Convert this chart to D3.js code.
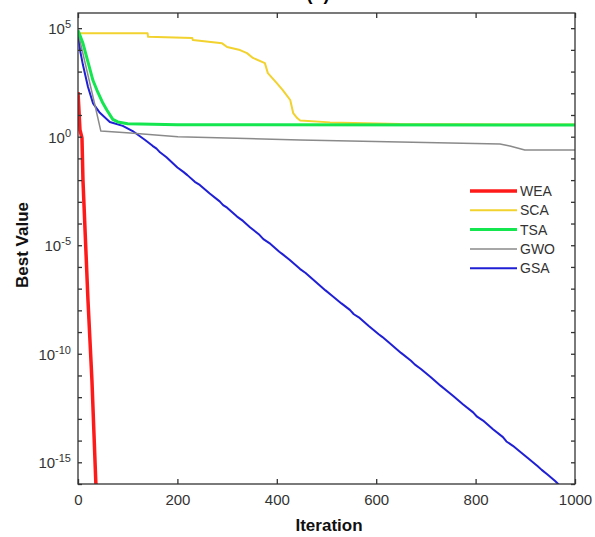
<!DOCTYPE html>
<html>
<head>
<meta charset="utf-8">
<script src="https://cdn.jsdelivr.net/npm/d3@7"></script>
<style>
  body { margin: 0; background: #fff; }
  svg { display: block; font-family: "Liberation Sans", Arial, sans-serif; }
</style>
</head>
<body>
<svg id="chart" width="595" height="537"></svg>
<script>
// series: iteration + log10(best value)
let weaIter = [0, 4, 8, 10, 20, 28, 36, 38];
let weaLog = [2.06, 0.31, -0.06, -2.0, -7.5, -11.2, -16.0, -16.6];

let scaIter = [0, 140, 141, 230, 231, 290, 300, 326, 340, 352, 376, 382, 400, 412, 427, 433, 441, 447, 507, 648, 1000];
let scaLog = [4.77, 4.77, 4.6, 4.55, 4.45, 4.3, 4.13, 3.99, 3.85, 3.63, 3.39, 2.93, 2.47, 2.15, 1.69, 1.09, 0.86, 0.75, 0.66, 0.58, 0.56];

let tsaIter = [0, 10, 30, 38, 50, 58, 70, 80, 100, 200, 1000];
let tsaLog = [4.9, 4.3, 2.6, 2.15, 1.55, 1.23, 0.8, 0.68, 0.6, 0.55, 0.54];

let gwoIter = [0, 34, 46, 105, 201, 447, 648, 849, 869, 899, 1000];
let gwoLog = [4.8, 1.46, 0.26, 0.17, 0.0, -0.15, -0.24, -0.34, -0.43, -0.61, -0.61];

let gsaIter = [0, 4, 10, 20, 30, 44, 64, 90, 110, 135, 150, 158, 165, 178, 185, 200, 212, 220, 235, 245, 258, 265, 285, 292, 300, 320,
  332, 346, 365, 373, 385, 405, 412, 425, 447, 458, 470, 490, 498, 510, 530, 547, 555, 565, 585, 605, 612, 625, 650, 670, 678, 690, 710, 730,
  742, 755, 775, 795, 803, 815, 835, 855, 862, 875, 889, 905, 925, 933, 944, 960, 975];
let gsaLog = [4.8, 4.0, 3.3, 2.3, 1.55, 1.1, 0.68, 0.5, 0.26, -0.15, -0.42, -0.55, -0.72, -0.95, -1.10, -1.42, -1.62, -1.77, -2.08, -2.22, -2.48, -2.62, -2.98, -3.15, -3.27, -3.68,
  -3.88, -4.17, -4.52, -4.72, -4.90, -5.30, -5.42, -5.66, -6.10, -6.28, -6.52, -6.92, -7.08, -7.30, -7.68, -7.98, -8.18, -8.32, -8.72, -9.10, -9.22, -9.47, -9.96, -10.32, -10.50, -10.70, -11.08, -11.48,
  -11.70, -11.95, -12.34, -12.70, -12.90, -13.08, -13.48, -13.84, -14.04, -14.24, -14.50, -14.80, -15.18, -15.35, -15.55, -15.86, -16.2];

let seriesNames = ["WEA", "SCA", "TSA", "GWO", "GSA"];
let xTicks = [0, 200, 400, 600, 800, 1000];
let yLabelExps = [5, 0, -5, -10, -15];

let colors = { WEA: "#ff1a1a", SCA: "#f2d22e", TSA: "#14e650", GWO: "#8a8a8a", GSA: "#1f1fd6" };
let widths = { WEA: 3.5, SCA: 2, TSA: 3, GWO: 1.5, GSA: 2 };

let svg = d3.select("#chart");

let padLeft = 78, padRight = 575, padTop = 13, padBottom = 484;

let xScale = d3.scaleLinear().domain([0, 1000]).range([padLeft, padRight]);
let yScale = d3.scaleLog().domain([1e-16, 5e5]).range([padBottom, padTop]);

svg.append("defs").append("clipPath").attr("id", "plotClip")
  .append("rect")
  .attr("x", padLeft).attr("y", padTop)
  .attr("width", padRight - padLeft).attr("height", padBottom - padTop);

// panel title, cut off at the top edge as in the source figure
svg.append("text")
  .attr("x", 318).attr("y", 0)
  .attr("text-anchor", "middle")
  .style("font-weight", "bold").style("font-size", "18px")
  .text("(b)");

function toPoints(iters, logs) {
  return iters.map((it, i) => ({ it: it, v: Math.pow(10, logs[i]) }));
}

let allSeries = {
  WEA: toPoints(weaIter, weaLog),
  SCA: toPoints(scaIter, scaLog),
  TSA: toPoints(tsaIter, tsaLog),
  GWO: toPoints(gwoIter, gwoLog),
  GSA: toPoints(gsaIter, gsaLog)
};

let line = d3.line()
  .x(d => xScale(d.it))
  .y(d => yScale(d.v));

let plot = svg.append("g").attr("clip-path", "url(#plotClip)");

// draw order so that red ends on top
["GSA", "GWO", "SCA", "TSA", "WEA"].forEach(name => {
  plot.append("path")
    .datum(allSeries[name])
    .attr("fill", "none")
    .attr("stroke", colors[name])
    .attr("stroke-width", widths[name])
    .attr("stroke-linejoin", "round")
    .attr("d", line);
});

// axes: inward ticks on all four sides
let decades = d3.range(-16, 6).map(e => Math.pow(10, e));

svg.append("g")
  .attr("transform", "translate(0," + padBottom + ")")
  .call(d3.axisBottom(xScale).tickValues(xTicks).tickSize(-5).tickPadding(10).tickFormat(d3.format("d")))
  .call(g => g.select(".domain").remove());

svg.append("g")
  .attr("transform", "translate(0," + padTop + ")")
  .call(d3.axisTop(xScale).tickValues(xTicks).tickSize(-5).tickFormat(""))
  .call(g => g.select(".domain").remove());

svg.append("g")
  .attr("transform", "translate(" + padLeft + ",0)")
  .call(d3.axisLeft(yScale).tickValues(decades).tickSize(-4).tickFormat(""))
  .call(g => g.select(".domain").remove());

svg.append("g")
  .attr("transform", "translate(" + padRight + ",0)")
  .call(d3.axisRight(yScale).tickValues(decades).tickSize(-4).tickFormat(""))
  .call(g => g.select(".domain").remove());

svg.selectAll(".tick line").attr("stroke", "#333").attr("stroke-width", 1.3);
svg.selectAll(".tick text")
  .attr("fill", "#333")
  .style("font-size", "15px")
  .style("font-family", "'Liberation Sans', Arial, sans-serif");

// y labels with superscripts
let yLab = svg.append("g");
yLabelExps.forEach(e => {
  let t = yLab.append("text")
    .attr("x", padLeft - 7)
    .attr("y", yScale(Math.pow(10, e)) + 6)
    .attr("text-anchor", "end")
    .attr("fill", "#333")
    .style("font-size", "15px");
  t.append("tspan").text("10");
  t.append("tspan").attr("dy", -6).style("font-size", "11px").text(String(e));
});

// frame
svg.append("rect")
  .attr("x", padLeft).attr("y", padTop)
  .attr("width", padRight - padLeft).attr("height", padBottom - padTop)
  .attr("fill", "none")
  .attr("stroke", "#333")
  .attr("stroke-width", 1.3);

// axis titles
svg.append("text")
  .attr("x", 329).attr("y", 531)
  .attr("text-anchor", "middle")
  .style("font-weight", "bold").style("font-size", "17px")
  .attr("fill", "#111")
  .text("Iteration");

svg.append("text")
  .attr("transform", "translate(28,245) rotate(-90)")
  .attr("text-anchor", "middle")
  .style("font-weight", "bold").style("font-size", "17px")
  .attr("fill", "#111")
  .text("Best Value");

// legend
let legend = svg.append("g");
seriesNames.forEach((name, i) => {
  let y = 191 + i * 19.3;
  legend.append("line")
    .attr("x1", 470).attr("x2", 517)
    .attr("y1", y).attr("y2", y)
    .attr("stroke", colors[name])
    .attr("stroke-width", widths[name]);
  legend.append("text")
    .attr("x", 520).attr("y", y + 5)
    .attr("fill", "#333")
    .style("font-size", "14px")
    .text(name);
});
</script>
</body>
</html>
